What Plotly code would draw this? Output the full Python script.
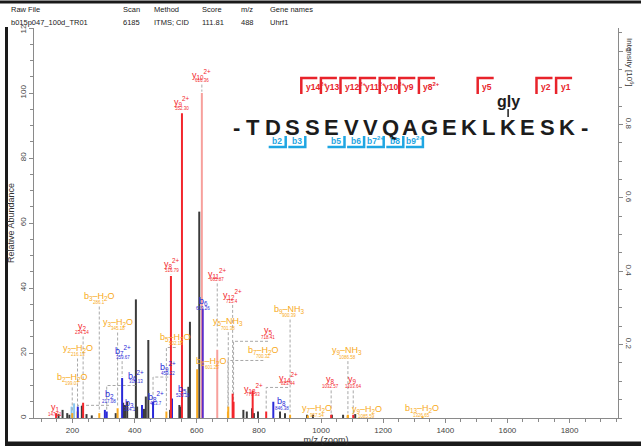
import plotly.graph_objects as go

# ---------------- data ----------------
HEADER_COLS = ["Raw File", "Scan", "Method", "Score", "m/z", "Gene names"]
HEADER_VALS = ["b015p047_100d_TR01", "6185", "ITMS; CID", "111.81", "488", "Uhrf1"]

SEQUENCE = "TDSSEVVQAGEKLKESK"
MOD_POSITION = 14
MOD_LABEL = "gly"
Y_BRACKETS = [14, 13, 12, 11, 10, 9, 8, 5, 2, 1]
Y_BRACKET_LABELS = ["y14<sup>2+</sup>", "y13", "y12<sup>2+</sup>", "y11<sup>2+</sup>", "y10<sup>2+</sup>",
                    "y9", "y8<sup>2+</sup>", "y5", "y2", "y1"]
B_BRACKETS = [2, 3, 5, 6, 7, 8, 9]
B_BRACKET_LABELS = ["b2", "b3", "b5", "b6", "b7<sup>2+</sup>", "b8", "b9<sup>2+</sup>"]

# annotated fragment ions
ION_LABELS = [
    "y<sub>1</sub>", "y<sub>2</sub>", "y<sub>8</sub><sup>2+</sup>", "y<sub>9</sub><sup>2+</sup>",
    "y<sub>10</sub><sup>2+</sup>", "y<sub>11</sub><sup>2+</sup>", "y<sub>12</sub><sup>2+</sup>",
    "y<sub>13</sub><sup>2+</sup>", "y<sub>14</sub><sup>2+</sup>", "y<sub>5</sub>", "y<sub>8</sub>", "y<sub>9</sub>",
    "b<sub>2</sub>", "b<sub>3</sub>", "b<sub>5</sub>", "b<sub>6</sub>", "b<sub>6</sub><sup>2+</sup>",
    "b<sub>7</sub><sup>2+</sup>", "b<sub>8</sub><sup>2+</sup>", "b<sub>9</sub><sup>2+</sup>", "b<sub>8</sub>",
    "b<sub>2</sub>–H<sub>2</sub>O", "y<sub>2</sub>–H<sub>2</sub>O", "b<sub>3</sub>–H<sub>2</sub>O",
    "y<sub>3</sub>–H<sub>2</sub>O", "b<sub>5</sub>–H<sub>2</sub>O", "b<sub>6</sub>–H<sub>2</sub>O",
    "y<sub>5</sub>–NH<sub>3</sub>", "b<sub>7</sub>–H<sub>2</sub>O", "b<sub>9</sub>–NH<sub>3</sub>",
    "y<sub>7</sub>–H<sub>2</sub>O", "y<sub>9</sub>–NH<sub>3</sub>", "y<sub>9</sub>–H<sub>2</sub>O",
    "b<sub>13</sub>–H<sub>2</sub>O",
]
ION_MZ = [147.11, 234.14, 516.79, 552.31, 616.34, 665.87, 715.41, 779.93, 823.45, 718.41, 1032.57, 1103.61,
          217.08, 304.11, 520.19, 619.26, 310.13, 359.67, 423.70, 459.22, 846.39,
          199.07, 216.13, 286.10, 345.18, 502.18, 601.25, 701.38, 700.32, 900.40, 957.54, 1086.58, 1085.60,
          1326.66]
ION_MASS_TEXT = ["147.11", "234.14", "516.79", "552.30", "616.36", "665.87", "715.4", "779.93", "823.44",
                 "718.41", "1032.57", "1103.64",
                 "217.08", "304.1", "520.19", "619.26", "310.13", "359.67", "423.7", "459.22", "846.38",
                 "199.07", "216.13", "286.1", "345.18", "502.18", "601.25", "701.38", "700.32", "900.39",
                 "957.54", "1086.58", "1085.59", "1326.65"]
ION_INTENSITY = [1.5, 4.7, 43.7, 93.8, 100.0, 21.0, 7.5, 8.5, 2.0, 5.0, 1.0, 1.0,
                 3.5, 2.5, 6.0, 33.5, 2.0, 12.3, 4.0, 5.0, 5.0,
                 1.5, 2.0, 1.5, 3.0, 2.0, 15.0, 3.5, 2.0, 1.0, 0.8, 1.0, 0.8, 0.5]
ION_SERIES = ["y", "y", "y", "y", "ys", "ys", "y", "y", "y", "y", "y", "y",
              "b", "b", "b", "bs", "b", "b", "b", "b", "b",
              "loss", "loss", "loss", "loss", "loss", "loss", "loss", "loss", "loss", "loss", "loss", "loss",
              "loss"]

# unassigned peaks
OTHER_MZ = [155, 168, 183, 190, 230, 245, 262, 339, 363, 369, 376, 404, 408, 430, 436, 444, 514, 544, 548,
            573, 578, 608, 750, 761, 778, 784, 797, 868, 884, 955, 974, 1035, 1071, 1110]
OTHER_INTENSITY = [1.2, 2.5, 1.5, 1.0, 3.7, 1.2, 0.8, 1.5, 4.7, 4.0, 5.0, 36.5, 3.5, 2.8, 6.6, 24.0, 2.5,
                   4.0, 3.5, 9.6, 29.6, 63.5, 2.5, 2.0, 3.0, 1.5, 2.0, 2.0, 1.5, 1.0, 1.0, 1.0, 1.0, 1.2]
LIGHT_MZ = [197, 205]
LIGHT_INTENSITY = [3.5, 4.5]

# ---------------- layout / style ----------------
W, H = 641, 447
PL, PR, PT, PB = 34, 618, 28, 418
X_RANGE = [76, 1956]
Y_RANGE = [0, 120]
Y2_RANGE = [0, 1.063]

# label positions (m/z, relative abundance) of each annotated ion
LABEL_POS = [
    (143.7, 3.1), (231.6, 28.3), (520.0, 47.4), (552.0, 97.3), (616.0, 105.8), (665.2, 44.6), (713.5, 38.0),
    (781.0, 9.2), (893.8, 12.6), (829.4, 26.8), (1031.3, 11.7), (1102.1, 11.7),
    (317.5, 7.1), (385.0, 4.6), (554.8, 8.9), (620.2, 35.8), (403.0, 13.2), (361.0, 20.7), (468.8, 6.6),
    (508.4, 15.8), (873.5, 5.0),
    (199.4, 12.6), (216.7, 21.5), (286.3, 37.5), (345.5, 29.5), (532.3, 24.9), (648.2, 17.5), (701.6, 29.6),
    (814.3, 20.9), (897.0, 33.5), (986.2, 2.8), (1084.7, 20.7), (1147.2, 2.5), (1324.3, 2.8),
]

PEAK_COL = {"y": "#f3262c", "ys": "#f7a09c", "b": "#2a2ad8", "bs": "#5b2cc9", "loss": "#f8aa22",
            "other": "#3b3b3b", "light": "#8cc8ef"}
TEXT_COL = {"y": "#f3262c", "ys": "#f3262c", "b": "#2a2ad8", "bs": "#2a2ad8", "loss": "#f8aa22"}
Y_BRACKET_COL = "#e8232b"
B_BRACKET_COL = "#1fa6e2"
FONT = "Liberation Sans, Arial, sans-serif"


def paper(px, py):
    return (px - PL) / (PR - PL), (PB - py) / (PB - PT)


def stems(xs, ys):
    X, Y = [], []
    for x, y in zip(xs, ys):
        X += [x, x, None]
        Y += [0, y, None]
    return X, Y


fig = go.Figure()

X, Y = stems(OTHER_MZ, OTHER_INTENSITY)
fig.add_trace(go.Scatter(x=X, y=Y, mode="lines", line=dict(color=PEAK_COL["other"], width=2),
                         hoverinfo="skip", showlegend=False))
X, Y = stems(LIGHT_MZ, LIGHT_INTENSITY)
fig.add_trace(go.Scatter(x=X, y=Y, mode="lines", line=dict(color=PEAK_COL["light"], width=2),
                         hoverinfo="skip", showlegend=False))

# connectors (dashed) from labels to peaks
CX, CY = [], []
for (lx, ly), mz, h in zip(LABEL_POS, ION_MZ, ION_INTENSITY):
    top = ly - 3.2
    if top <= h + 0.3:
        continue
    if abs(lx - mz) < 10:
        CX += [mz, mz, None]
        CY += [top, h + 0.4, None]
    else:
        CX += [lx, mz, mz, None]
        CY += [top, top, h + 0.4, None]
fig.add_trace(go.Scatter(x=CX, y=CY, mode="lines", line=dict(color="#a8a8a8", width=1, dash="3px,2px"),
                         hoverinfo="skip", showlegend=False))

for s in ["loss", "b", "y", "ys", "bs"]:
    xs = [m for m, ss in zip(ION_MZ, ION_SERIES) if ss == s]
    ys = [v for v, ss in zip(ION_INTENSITY, ION_SERIES) if ss == s]
    X, Y = stems(xs, ys)
    fig.add_trace(go.Scatter(x=X, y=Y, mode="lines", line=dict(color=PEAK_COL[s], width=2),
                             hoverinfo="skip", showlegend=False))

# invisible trace so the right (absolute intensity) axis is drawn
fig.add_trace(go.Scatter(x=[1000], y=[0.5], yaxis="y2", mode="markers", marker=dict(opacity=0),
                         showlegend=False, hoverinfo="skip"))

ann = []
for lab, (lx, ly), mtxt, s in zip(ION_LABELS, LABEL_POS, ION_MASS_TEXT, ION_SERIES):
    ann.append(dict(x=lx, y=ly, xref="x", yref="y", text=lab, showarrow=False,
                    font=dict(family=FONT, size=9, color=TEXT_COL[s]), xanchor="center", yanchor="middle"))
    ann.append(dict(x=lx, y=ly - 2.0, xref="x", yref="y", text=mtxt, showarrow=False,
                    font=dict(family=FONT, size=4.5, color=TEXT_COL[s]), xanchor="center", yanchor="middle"))

# header table
HEADER_X = [9, 121, 152, 200, 239, 268]
for hx, c, v in zip(HEADER_X, HEADER_COLS, HEADER_VALS):
    x0, y0 = paper(hx, 10)
    ann.append(dict(x=x0, y=y0, xref="paper", yref="paper", text=c, showarrow=False, xanchor="left",
                    yanchor="middle", font=dict(family=FONT, size=7.5, color="#222")))
    x1, y1 = paper(hx, 22.5)
    ann.append(dict(x=x1, y=y1, xref="paper", yref="paper", text=v, showarrow=False, xanchor="left",
                    yanchor="middle", font=dict(family=FONT, size=7.5, color="#222")))

# sequence
SEQ_X0, SEQ_DX, SEQ_Y = 253.3, 19.6, 128


def res_x(i):
    return SEQ_X0 + (i - 1) * SEQ_DX


letters = ["-"] + list(SEQUENCE) + ["-"]
lx_list = [res_x(0) + 3] + [res_x(i) for i in range(1, len(SEQUENCE) + 1)] + [res_x(len(SEQUENCE) + 1) - 2]
for ch, px in zip(letters, lx_list):
    xx, yy = paper(px, SEQ_Y)
    ann.append(dict(x=xx, y=yy, xref="paper", yref="paper", text="<b>%s</b>" % ch, showarrow=False,
                    xanchor="center", yanchor="middle", font=dict(family=FONT, size=22, color="#1c1c1c")))

shapes = []
mx = res_x(MOD_POSITION)
xx, yy = paper(mx, 101)
ann.append(dict(x=xx, y=yy, xref="paper", yref="paper", text="<b>%s</b>" % MOD_LABEL, showarrow=False,
                xanchor="center", yanchor="middle", font=dict(family=FONT, size=16, color="#1c1c1c")))
a, b_ = paper(mx, 109)
c, d = paper(mx, 117)
shapes.append(dict(type="line", xref="paper", yref="paper", x0=a, y0=b_, x1=c, y1=d,
                   line=dict(color="#1c1c1c", width=1.5)))

n_res = len(SEQUENCE)
for n, lab in zip(Y_BRACKETS, Y_BRACKET_LABELS):
    bx = res_x(n_res - n) + SEQ_DX / 2 - 1
    p1 = paper(bx, 94)
    p2 = paper(bx, 78)
    p3 = paper(bx + 16, 78)
    shapes.append(dict(type="path", xref="paper", yref="paper",
                       path="M %f,%f L %f,%f L %f,%f" % (p1 + p2 + p3),
                       line=dict(color=Y_BRACKET_COL, width=2.5)))
    tx, ty = paper(bx + 2.5, 86.5)
    ann.append(dict(x=tx, y=ty, xref="paper", yref="paper", text="<b>%s</b>" % lab, showarrow=False,
                    xanchor="left", yanchor="middle", font=dict(family=FONT, size=8.5, color=Y_BRACKET_COL)))

for n, lab in zip(B_BRACKETS, B_BRACKET_LABELS):
    bx = res_x(n) + SEQ_DX / 2 + 3
    p1 = paper(bx, 136)
    p2 = paper(bx, 147)
    p3 = paper(bx - 17, 147)
    shapes.append(dict(type="path", xref="paper", yref="paper",
                       path="M %f,%f L %f,%f L %f,%f" % (p1 + p2 + p3),
                       line=dict(color=B_BRACKET_COL, width=2.5)))
    tx, ty = paper(bx - 8.5, 140.5)
    ann.append(dict(x=tx, y=ty, xref="paper", yref="paper", text="<b>%s</b>" % lab, showarrow=False,
                    xanchor="center", yanchor="middle", font=dict(family=FONT, size=8.5, color=B_BRACKET_COL)))

# right axis title
tx, ty = paper(630, 62)
ann.append(dict(x=tx, y=ty, xref="paper", yref="paper", text="Intensity [10<sup>6</sup>]", showarrow=False,
                textangle=90, xanchor="center", yanchor="middle", font=dict(family=FONT, size=8, color="#333")))


def rect(px0, py0, px1, py1, color):
    x0, y0 = paper(px0, py0)
    x1, y1 = paper(px1, py1)
    return dict(type="rect", xref="paper", yref="paper", x0=x0, y0=y0, x1=x1, y1=y1,
                fillcolor=color, line=dict(width=0), layer="above")


shapes.append(rect(14, 0, 33, 24, "white"))
shapes.append(rect(0, 0.5, 641, 3.5, "#1a1a1a"))
shapes.append(rect(5, 27, 8, 446, "#1a1a1a"))
shapes.append(rect(5, 441.5, 641, 446, "#1a1a1a"))

axis_common = dict(showline=True, linecolor="#8a8a8a", linewidth=1, ticks="outside", ticklen=4,
                   tickcolor="#8a8a8a", showgrid=False, zeroline=False,
                   tickfont=dict(family=FONT, size=8, color="#444"))

fig.update_layout(
    width=W, height=H, autosize=False,
    margin=dict(l=PL, r=W - PR, t=PT, b=H - PB, pad=0, autoexpand=False),
    paper_bgcolor="white", plot_bgcolor="white",
    font=dict(family=FONT),
    xaxis=dict(range=X_RANGE, dtick=200, tick0=0, automargin=False,
               minor=dict(dtick=50, ticks="outside", ticklen=3, tickcolor="#8a8a8a"),
               title=dict(text="m/z (zoom)", font=dict(family=FONT, size=9, color="#333"), standoff=3),
               **axis_common),
    yaxis=dict(range=Y_RANGE, dtick=20, tick0=0, tickangle=-90, automargin=False,
               minor=dict(dtick=5, ticks="outside", ticklen=3, tickcolor="#8a8a8a"),
               title=dict(text="Relative Abundance", font=dict(family=FONT, size=9, color="#333"), standoff=2),
               **axis_common),
    yaxis2=dict(range=Y2_RANGE, overlaying="y", side="right", anchor="x", tickangle=90,
                automargin=False, tickvals=[0.2, 0.4, 0.6, 0.8, 1.0], ticktext=["0.2", "0.4", "0.6", "0.8", "1"],
                minor=dict(dtick=0.05, tick0=0, ticks="outside", ticklen=3, tickcolor="#8a8a8a"),
                **axis_common),
    annotations=ann,
    shapes=shapes,
)

fig.write_html("out.html", config={"displayModeBar": False},
               post_script="document.body.style.margin='0px';document.body.style.overflow='hidden';")
